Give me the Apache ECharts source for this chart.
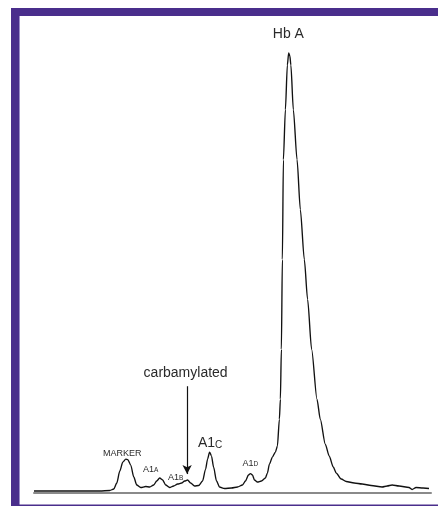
<!DOCTYPE html>
<html>
<head>
<meta charset="utf-8">
<script src="https://cdn.jsdelivr.net/npm/echarts@6/dist/echarts.min.js"></script>
<style>
  html, body { margin: 0; padding: 0; background: #ffffff; }
  #chart { width: 438px; height: 506px; }
</style>
</head>
<body>
<div id="chart"></div>
<script>
// Relative run position (% of run) and detector response (% of Hb A peak height)
const retention = [0.0, 9.05, 16.58, 19.10, 20.10, 20.85, 21.61, 22.36, 23.12, 23.62, 24.37, 25.13, 25.88, 26.88, 28.14,
  29.15, 30.15, 30.91, 31.66, 32.41, 33.17, 34.17, 35.18, 36.18, 37.19, 37.94, 38.69, 39.45, 40.45, 41.46,
  42.46, 43.22, 43.72, 44.22, 44.72, 45.23, 45.98, 46.73, 47.99, 49.75, 51.26, 52.51, 53.27, 54.02, 54.52,
  55.03, 55.53, 56.28, 57.29, 58.29, 58.79, 59.30, 60.05, 60.80, 61.31, 61.81, 62.06, 62.31, 62.56, 62.82,
  63.32, 63.82, 64.15, 64.45, 64.70, 65.33, 66.26, 67.09, 68.09, 68.92, 69.93, 71.28, 72.11, 73.37, 74.37,
  75.38, 76.13, 77.39, 78.64, 80.65, 82.66, 84.93, 87.69, 88.95, 90.20, 91.96, 94.47, 95.23, 96.23, 97.99, 99.50];
const response = [0.44, 0.44, 0.44, 0.56, 0.89, 2.22, 4.89, 6.89, 7.56, 7.44, 6.22, 3.56, 1.78, 1.22, 1.44,
  1.33, 1.78, 2.67, 3.33, 2.89, 1.78, 1.22, 1.56, 2.00, 2.22, 2.67, 2.89, 2.22, 1.56, 1.67,
  2.67, 5.33, 7.56, 9.11, 8.22, 5.78, 2.67, 1.33, 1.00, 1.11, 1.33, 1.78, 2.67, 4.00, 4.33,
  4.00, 2.89, 2.44, 2.67, 3.33, 4.44, 6.44, 8.00, 9.11, 10.44, 16.44, 20.89, 32.00, 52.00, 74.22,
  85.33, 95.33, 98.00, 97.33, 95.33, 85.33, 74.22, 63.11, 52.00, 43.11, 32.00, 20.89, 16.44, 10.89, 8.22,
  5.78, 4.44, 3.11, 2.56, 2.22, 2.00, 1.67, 1.33, 1.56, 1.78, 1.56, 1.22, 0.78, 1.22, 1.11, 1.00];

// Peak labels: [position, response, main text, small-cap suffix, font size, suffix size]
const peakLabels = [
  [64.07, 102.4, 'Hb A', '', 14, 0],
  [38.19, 26.9, 'carbamylated', '', 14, 0],
  [22.24, 9.11, 'MARKER', '', 9, 0],
  [29.40, 5.56, 'A1', 'A', 9, 6.5],
  [35.68, 3.78, 'A1', 'B', 9, 6.5],
  [44.35, 11.33, 'A1', 'C', 14, 10],
  [54.52, 6.89, 'A1', 'D', 9, 6.5]
];
// Arrow from carbamylated label down to the A1b region
const arrowX = 38.57;
const arrowFrom = 23.78;
const arrowTo = 4.22;

const seriesData = retention.map((r, i) => [r, response[i]]);

const chart = echarts.init(document.getElementById('chart'), null, { renderer: 'canvas' });
const FONT = '"Liberation Sans", Arial, Helvetica, sans-serif';
const PURPLE = '#4a2e8c';

chart.setOption({
  animation: false,
  backgroundColor: '#ffffff',
  grid: { left: 34, right: 7, top: 44, bottom: 13 },
  xAxis: {
    type: 'value', min: 0, max: 100,
    axisLine: { show: true, lineStyle: { color: '#8a8a8a', width: 2 } },
    axisTick: { show: false }, axisLabel: { show: false }, splitLine: { show: false }
  },
  yAxis: {
    type: 'value', min: 0, max: 100, show: false,
    splitLine: { show: false }
  },
  series: [{
    type: 'line',
    data: seriesData,
    showSymbol: false,
    smooth: 0.25,
    smoothMonotone: 'x',
    clip: false,
    lineStyle: { color: '#111111', width: 1.35 },
    z: 3,
    markLine: {
      silent: true,
      symbol: ['none', 'arrow'],
      symbolSize: [7, 9],
      label: { show: false },
      lineStyle: { color: '#111111', width: 1.2, type: 'solid' },
      data: [[{ coord: [arrowX, arrowFrom] }, { coord: [arrowX, arrowTo] }]]
    }
  }]
});

const graphics = [
  { type: 'rect', shape: { x: 11, y: 8, width: 8, height: 498 }, style: { fill: PURPLE } },
  { type: 'rect', shape: { x: 11, y: 8, width: 427, height: 8 }, style: { fill: PURPLE } },
  { type: 'rect', shape: { x: 19, y: 16, width: 1, height: 490 }, style: { fill: '#9d8fc7' } },
  { type: 'rect', shape: { x: 11, y: 504.5, width: 427, height: 1.5 }, style: { fill: PURPLE } }
];

peakLabels.forEach(([x, y, main, sub, fs, sfs]) => {
  const p = chart.convertToPixel({ gridIndex: 0 }, [x, y]);
  const text = sub ? '{m|' + main + '}{s|' + sub + '}' : '{m|' + main + '}';
  graphics.push({
    type: 'text',
    x: p[0], y: p[1],
    style: {
      text: text,
      align: 'center',
      verticalAlign: 'middle',
      fill: '#2a2a2a',
      rich: {
        m: { fontSize: fs, fontFamily: FONT, fill: '#2a2a2a', lineHeight: fs + 2, verticalAlign: 'bottom' },
        s: { fontSize: sfs || fs, fontFamily: FONT, fill: '#2a2a2a', lineHeight: fs + 2, verticalAlign: 'bottom' }
      }
    },
    z: 10
  });
});

chart.setOption({ graphic: graphics });
</script>
</body>
</html>
